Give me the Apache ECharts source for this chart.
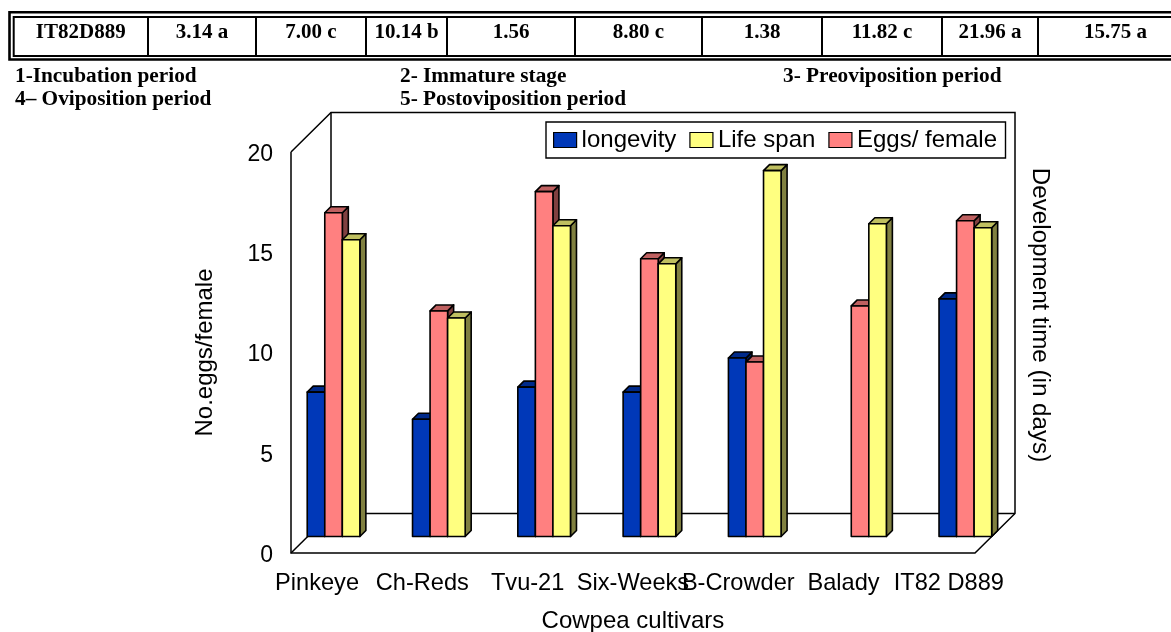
<!DOCTYPE html>
<html>
<head>
<meta charset="utf-8">
<style>html,body{margin:0;padding:0;background:#fff}#c{width:1171px;height:632px}</style>
<script src="https://cdn.jsdelivr.net/npm/echarts@6/dist/echarts.min.js"></script>
</head>
<body>
<div id="c"></div>
<script>
var categories = ['Pinkeye', 'Ch-Reds', 'Tvu-21', 'Six-Weeks', 'B-Crowder', 'Balady', 'IT82 D889'];
var longevity = [7.2, 5.85, 7.45, 7.2, 8.9, 0, 11.85];
var eggsFemale = [16.15, 11.25, 17.2, 13.85, 8.7, 11.5, 15.75];
var lifeSpan = [14.8, 10.9, 15.5, 13.6, 18.25, 15.6, 15.4];
var tableRow = ['IT82D889', '3.14 a', '7.00 c', '10.14 b', '1.56', '8.80 c', '1.38', '11.82 c', '21.96 a', '15.75 a'];
var tableDividers = [148, 256, 366, 447, 575, 702, 822, 942, 1038];
var notes = [
  ['1-Incubation period', 15, 76], ['2- Immature stage', 400, 76], ['3- Preoviposition period', 783, 76],
  ['4\u2013 Oviposition period', 15, 99], ['5- Postoviposition period', 400, 99]
];

var SANS = '"Liberation Sans", Arial, sans-serif';
var SERIF = '"Liberation Serif", "Times New Roman", serif';
var DEPTH = 40, DEPTH_Y = 39.5, BAR_SHIFT = 16.5, FRONT_L = 291, FRONT_R = 975, TOP = 6;

function barSeries(name, values, slot, face, topFace, side) {
  return {
    name: name, type: 'custom', z: 5 + slot,
    itemStyle: {color: face},
    data: values.map(function (v, i) { return [i, v]; }),
    encode: {x: 0, y: 1},
    renderItem: function (params, api) {
      var v = api.value(1);
      if (!v) return null;
      var band = api.size([1, 0])[0];
      var w = band / 6;
      var p = api.coord([api.value(0), v]);
      var b = api.coord([api.value(0), 0]);
      var x = p[0] + BAR_SHIFT + (slot - 1.5) * w;
      var y = p[1] - BAR_SHIFT;
      var y0 = b[1] - BAR_SHIFT;
      var st = {stroke: '#000', lineWidth: 1.6, lineJoin: 'round'};
      function poly(points, fill) {
        return {type: 'polygon', shape: {points: points}, style: Object.assign({fill: fill}, st)};
      }
      return {type: 'group', children: [
        poly([[x + w, y], [x + w + TOP, y - TOP], [x + w + TOP, y0 - TOP], [x + w, y0]], side),
        poly([[x, y], [x + TOP, y - TOP], [x + w + TOP, y - TOP], [x + w, y]], topFace),
        poly([[x, y], [x + w, y], [x + w, y0], [x, y0]], face)
      ]};
    }
  };
}

var frameSeries = {
  name: 'frame', type: 'custom', z: 1, silent: true,
  data: [[0, 0]], encode: {x: 0, y: 1},
  renderItem: function (params, api) {
    var y0 = api.coord([0, 0])[1], y1 = api.coord([0, 20])[1];
    var lines = [
      [[FRONT_L, y1], [FRONT_L, y0], [FRONT_R, y0], [FRONT_R + DEPTH, y0 - DEPTH_Y], [FRONT_R + DEPTH, y1 - DEPTH_Y], [FRONT_L + DEPTH, y1 - DEPTH_Y], [FRONT_L, y1]],
      [[FRONT_L + DEPTH, y1 - DEPTH_Y], [FRONT_L + DEPTH, y0 - DEPTH_Y], [FRONT_R + DEPTH, y0 - DEPTH_Y]],
      [[FRONT_L, y0], [FRONT_L + DEPTH, y0 - DEPTH_Y]]
    ];
    return {type: 'group', children: lines.map(function (pts) {
      return {type: 'polyline', shape: {points: pts}, style: {stroke: '#000', lineWidth: 1.5, fill: null}};
    })};
  }
};

var graphics = [
  {type: 'rect', shape: {x: 9.5, y: 12.2, width: 1180, height: 47.3}, style: {fill: null, stroke: '#000', lineWidth: 2.6}},
  {type: 'rect', shape: {x: 13.7, y: 17, width: 1180, height: 39}, style: {fill: null, stroke: '#000', lineWidth: 2}}
];
tableDividers.forEach(function (x) {
  graphics.push({type: 'line', shape: {x1: x, y1: 17, x2: x, y2: 56}, style: {stroke: '#000', lineWidth: 2}});
});
var edges = [13.5].concat(tableDividers, [1193]);
tableRow.forEach(function (t, i) {
  graphics.push({type: 'text', x: (edges[i] + edges[i + 1]) / 2, y: 33,
    style: {text: t, font: 'bold 21px ' + SERIF, fill: '#000', align: 'center', verticalAlign: 'middle'}});
});
notes.forEach(function (n) {
  graphics.push({type: 'text', x: n[1], y: n[2],
    style: {text: n[0], font: 'bold 21.3px ' + SERIF, fill: '#000', align: 'left', verticalAlign: 'middle'}});
});
graphics.push({type: 'text', x: 1040, y: 315, rotation: -Math.PI / 2,
  style: {text: 'Development time (in days)', font: '24.2px ' + SANS, fill: '#000', align: 'center', verticalAlign: 'middle'}});

var chart = echarts.init(document.getElementById('c'), null, {renderer: 'canvas'});
chart.setOption({
  animation: false,
  backgroundColor: '#fff',
  graphic: graphics,
  grid: {left: 264.4, top: 152, width: 737.1, height: 401, outerBoundsMode: 'none'},
  legend: {
    left: 546, top: 122, orient: 'horizontal', padding: [6, 8.5, 6, 7], itemGap: 13,
    itemWidth: 23, itemHeight: 15, icon: 'rect',
    borderColor: '#000', borderWidth: 1.4, backgroundColor: '#fff',
    selectedMode: false,
    textStyle: {fontFamily: SANS, fontSize: 24, color: '#000'},
    itemStyle: {borderColor: '#000', borderWidth: 1.2},
    data: [
      {name: 'longevity', itemStyle: {color: '#0038B8'}},
      {name: 'Life span', itemStyle: {color: '#FFFF80'}},
      {name: 'Eggs/ female', itemStyle: {color: '#FF8080'}}
    ]
  },
  xAxis: {
    type: 'category', data: categories,
    axisLine: {show: false}, axisTick: {show: false}, splitLine: {show: false},
    axisLabel: {interval: 0, hideOverlap: false, fontFamily: SANS, fontSize: 23.6, color: '#000', margin: 18},
    name: 'Cowpea cultivars', nameLocation: 'middle', nameGap: 56,
    nameTextStyle: {fontFamily: SANS, fontSize: 24, color: '#000'}
  },
  yAxis: {
    type: 'value', min: 0, max: 20, interval: 5, offset: -26.6,
    axisLine: {show: false}, axisTick: {show: false}, splitLine: {show: false},
    axisLabel: {fontFamily: SANS, fontSize: 23, color: '#000', margin: 18, verticalAlign: 'top', lineHeight: 5},
    name: 'No.eggs/female', nameLocation: 'middle', nameGap: 74,
    nameTextStyle: {fontFamily: SANS, fontSize: 24, color: '#000'}
  },
  series: [
    frameSeries,
    barSeries('longevity', longevity, 0, '#0038B8', '#002A8A', '#001C5C'),
    barSeries('Eggs/ female', eggsFemale, 1, '#FF8080', '#BF6060', '#804040'),
    barSeries('Life span', lifeSpan, 2, '#FFFF80', '#BFBF60', '#808040')
  ]
});
</script>
</body>
</html>
